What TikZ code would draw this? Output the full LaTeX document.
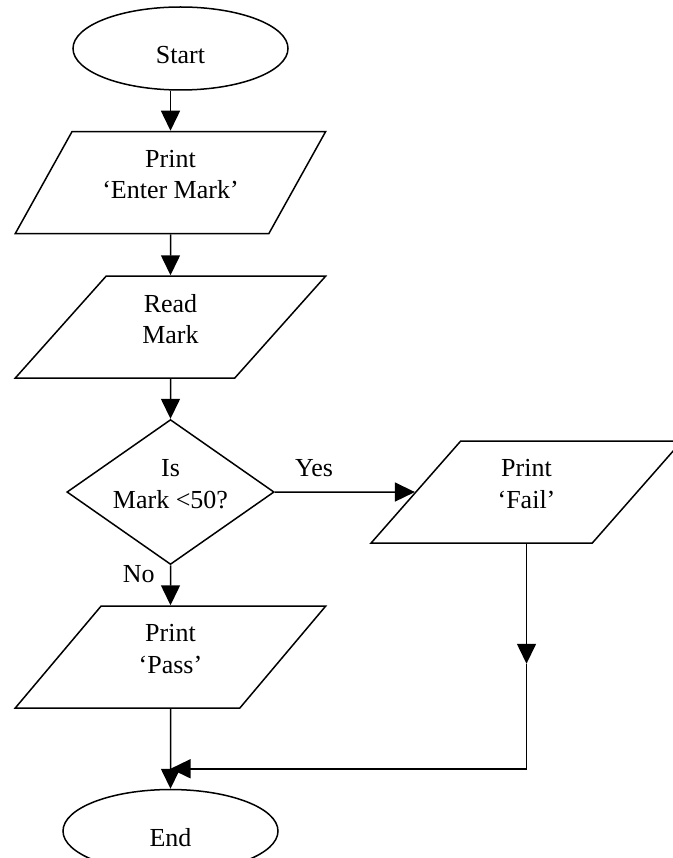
\documentclass[tikz,border=0pt]{standalone}
\usepackage{fontspec}
\setmainfont{Liberation Serif}
\usepackage{tikz}
\usetikzlibrary{arrows.meta,positioning,shapes.geometric}
\tikzset{
  termbox/.style={
    ellipse, draw=black, line width=1.5pt, inner sep=0pt,
    minimum width=215pt, minimum height=83pt,
    text height=31pt, text depth=0pt
  },
  iobox/.style={
    trapezium, trapezium stretches=true,
    trapezium left angle=58.7, trapezium right angle=121.3,
    draw=black, line width=1.5pt, inner sep=0pt,
    minimum width=311pt, minimum height=102pt,
    align=center, text depth=16pt
  },
  decbox/.style={
    diamond, aspect=1.43, draw=black, line width=1.5pt, inner sep=0pt,
    minimum width=206pt, minimum height=144pt,
    align=center, text depth=16pt
  },
  flowlabel/.style={inner sep=0pt},
  flowarrow/.style={-{Triangle[length=20pt,width=19pt]}, line width=1.5pt}
}

\begin{document}
\begin{tikzpicture}[font=\fontsize{26}{31.5}\selectfont]
\useasboundingbox (0,0) rectangle (672pt,-858pt);

\node[termbox] (start) at (180.5pt,-48.5pt) {Start};
\node[iobox, below=40pt of start, xshift=-10pt] (enter) {Print\\‘Enter Mark’};
\node[iobox, below=41pt of enter] (read) {Read\\Mark};
\node[decbox, below=40pt of read] (dec) {Is\\Mark <50?};
\node[iobox, right=140pt of dec] (fail) {Print\\‘Fail’};
\node[iobox, below=40pt of dec] (pass) {Print\\‘Pass’};
\node[termbox, below=80pt of pass] (end) {End};

\coordinate[below=120pt of fail.south] (failmid);
\coordinate[below=60pt of pass.south] (merge);

\draw[flowarrow] (start.south -| enter.north) -- (enter.north);
\draw[flowarrow] (enter) -- (read);
\draw[flowarrow] (read) -- (dec);
\draw[flowarrow] (dec) -- node[flowlabel, pos=0.28, above=15pt] {Yes} (fail);
\draw[flowarrow] (dec) -- node[flowlabel, pos=0.22, left=15pt] {No} (pass);
\draw[flowarrow] (pass) -- (end);
\draw[flowarrow] (fail.south) -- (failmid);
\draw[flowarrow] (failmid) -- (failmid |- merge) -- (merge);
\end{tikzpicture}
\end{document}
